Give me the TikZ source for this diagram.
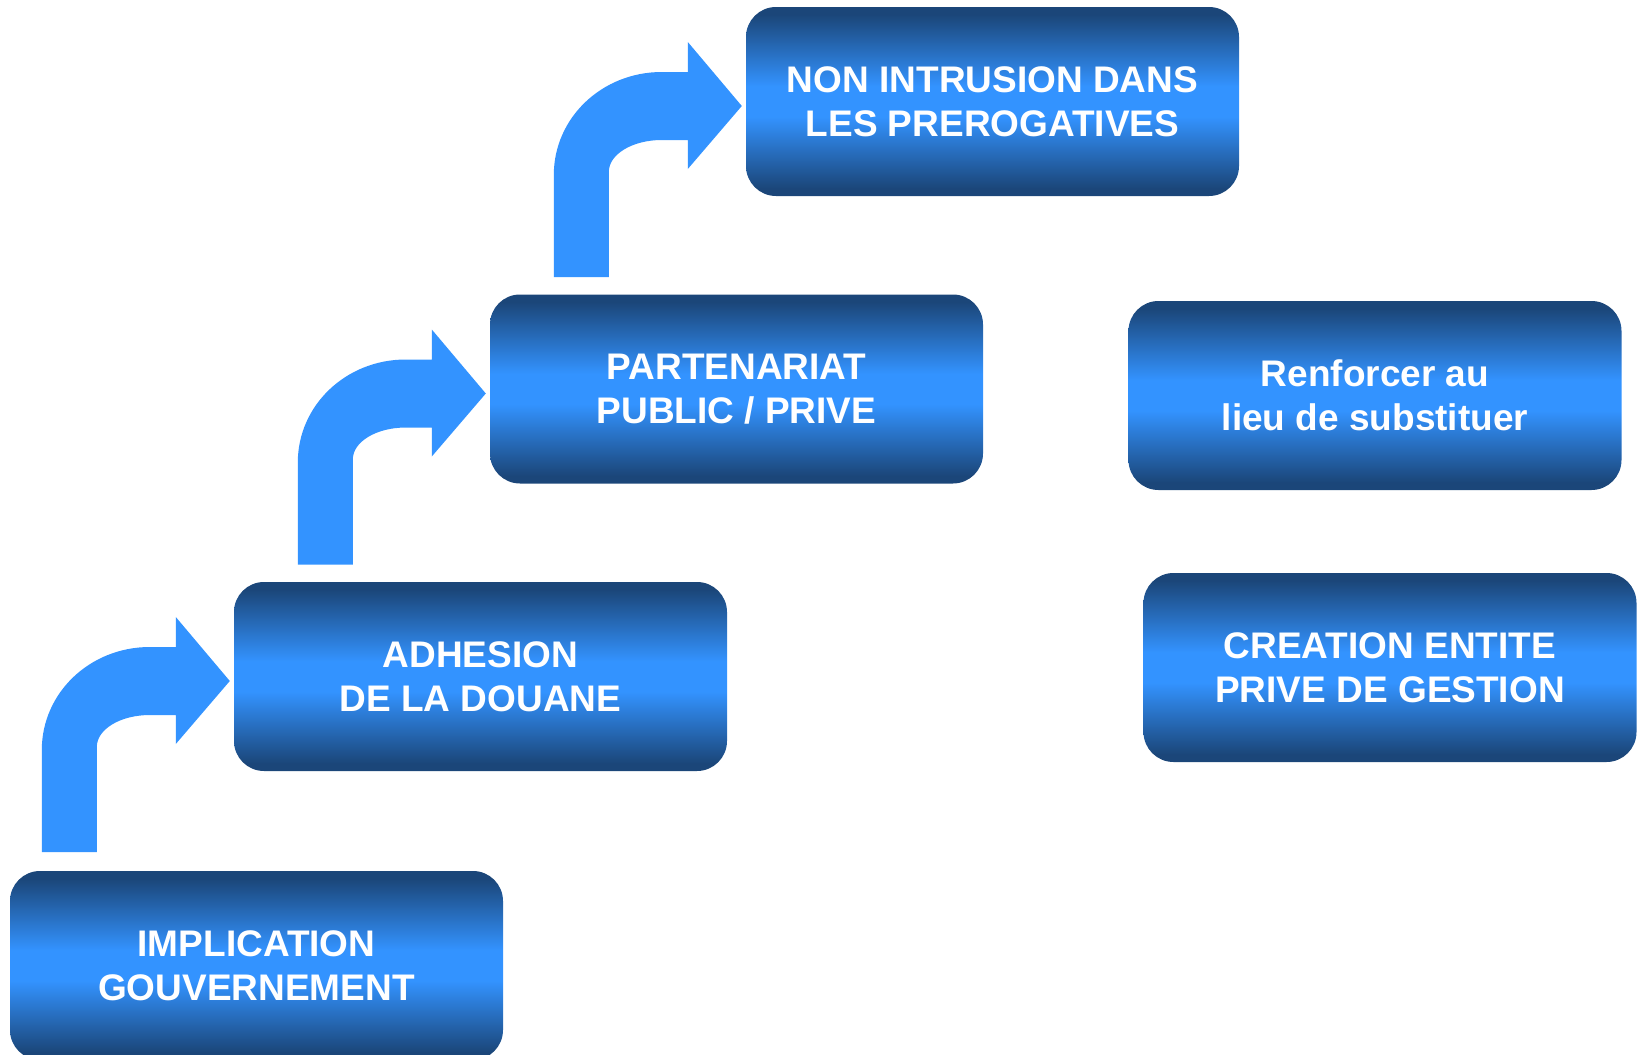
\documentclass[tikz,border=0pt]{standalone}
\usepackage{fontspec}
\setmainfont{Liberation Sans}
\usetikzlibrary{calc}
\definecolor{dkb}{HTML}{1B4679}
\definecolor{brb}{HTML}{3393FF}
\definecolor{arrowblue}{HTML}{3393FF}
\pgfdeclareverticalshading{boxshade}{100bp}{color(0bp)=(dkb); color(25bp)=(dkb); color(27bp)=(dkb); color(46bp)=(brb); color(54bp)=(brb); color(73bp)=(dkb); color(75bp)=(dkb); color(100bp)=(dkb)}
\tikzset{
  box/.style={rectangle, rounded corners=30pt, minimum width=493pt, minimum height=189pt,
    inner sep=0pt, shading=boxshade, text=white,
    font=\bfseries\fontsize{37}{44}\selectfont, align=center},
  bentarrow/.pic={
    \fill[arrowblue] (-188,171) -- (-188,69) .. controls (-188,12) and (-140,-34) .. (-80,-34)
      -- (-54,-34) -- (-54,-64) -- (0,0) -- (-54,63) -- (-54,34) -- (-80,34)
      .. controls (-109,34) and (-133,48) .. (-133,66) -- (-133,171) -- cycle;
  }
}
\begin{document}
\begin{tikzpicture}[x=1pt,y=-1pt]
\useasboundingbox (0,0) rectangle (1639,1055);
\node[box] (impl) at (256.5,965.5) {IMPLICATION\\GOUVERNEMENT};
\node[box] (adh) at (480.5,676.5) {ADHESION\\DE LA DOUANE};
\node[box] (part) at (736.5,389) {PARTENARIAT\\PUBLIC / PRIVE};
\node[box] (non) at (992.5,101.5) {NON INTRUSION DANS\\LES PREROGATIVES};
\node[box] (renf) at (1375,395.5) {Renforcer au\\lieu de substituer};
\node[box] (creat) at (1390,667.5) {CREATION ENTITE\\PRIVE DE GESTION};
\pic at ($(adh.west)+(-4,4.5)$) {bentarrow};
\pic at ($(part.west)+(-4,4.5)$) {bentarrow};
\pic at ($(non.west)+(-4,4.5)$) {bentarrow};
\end{tikzpicture}
\end{document}
